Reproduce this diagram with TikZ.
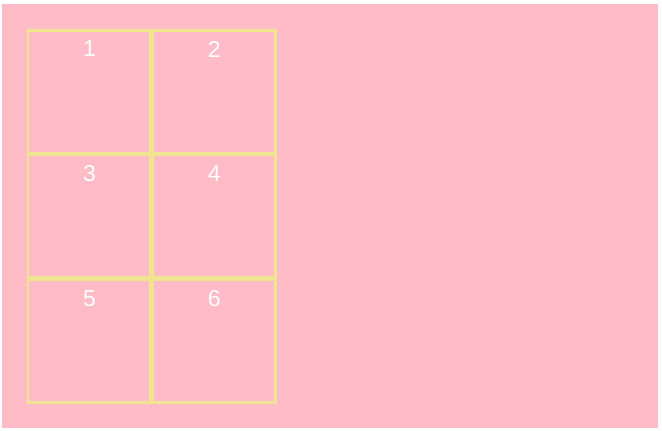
\documentclass[tikz,border=0pt]{standalone}
\usepackage{fontspec}
\setmainfont{Liberation Sans}
\usetikzlibrary{positioning}
\definecolor{bgpink}{RGB}{255,187,198}
\definecolor{cellline}{RGB}{240,228,145}
\tikzset{
    cell/.style = {draw=cellline, line width=2.4pt, rectangle, minimum size=122.4pt, inner sep=0pt, outer sep=0pt},
    num/.style = {text=white, font=\fontsize{23}{27}\selectfont, inner sep=0pt},
}

\begin{document}
\begin{tikzpicture}[x=1pt, y=-1pt, node distance=2.4pt]
\useasboundingbox (0,0) rectangle (662,431);
\fill[white] (0,0) rectangle (662,431);
\fill[bgpink] (2,4) rectangle (658,428);

\node[cell] (c1) at (89.4,91.6) {};
\node[cell, right=of c1] (c2) {};
\node[cell, below=of c1] (c3) {};
\node[cell, right=of c3] (c4) {};
\node[cell, below=of c3] (c5) {};
\node[cell, right=of c5] (c6) {};

\foreach \i in {1,...,6}
    \node[num, below=10.5pt] (n\i) at (c\i.north) {\i};
\end{tikzpicture}
\end{document}
